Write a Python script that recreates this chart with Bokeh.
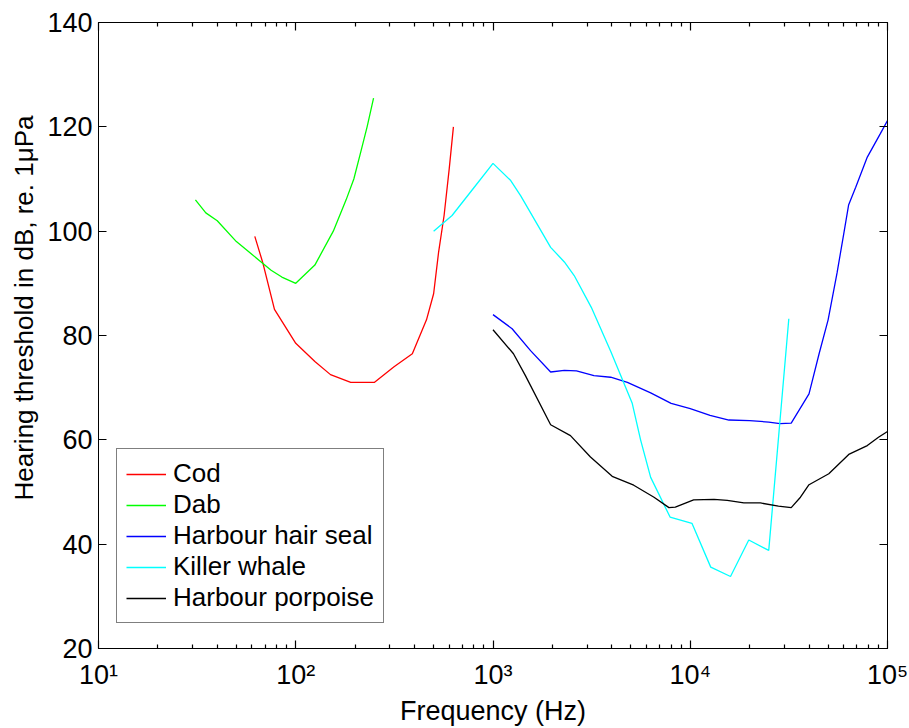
from bokeh.plotting import figure
from bokeh.models import (Range1d, LogAxis, LinearAxis, FixedTicker, Legend,
                          LegendItem, Title)
from bokeh.embed import file_html
from bokeh.resources import INLINE

# ---------------- data ----------------
cod_freq = [62, 68, 78, 100, 125, 150, 190, 250, 315, 390, 460, 500, 530, 565, 600, 630]
cod_db = [99, 94, 85, 78.5, 75, 72.5, 71, 71, 74, 76.5, 83, 88, 96, 103, 112, 120]

dab_freq = [31, 35, 40, 50, 58, 75, 85, 100, 125, 155, 180, 197, 213, 230, 248]
dab_db = [106, 103.5, 102, 98, 96, 92.5, 91.2, 90, 93.5, 100, 106, 110, 115, 120, 125.5]

seal_freq = [1000, 1250, 1550, 1960, 2300, 2650, 3250, 3950, 4800, 6300, 8000, 10000,
             12600, 15700, 20000, 25000, 28500, 32500, 40000, 45000, 50000, 55500,
             60000, 63500, 69000, 79000, 92000, 100000]
seal_db = [84, 81.3, 77.1, 73, 73.3, 73.2, 72.3, 72, 71, 69, 67, 66,
           64.7, 63.8, 63.7, 63.4, 63.1, 63.2, 68.8, 76.5, 83, 92,
           99.5, 105, 108.4, 114.2, 118.7, 121.2]

orca_freq = [500, 620, 780, 1000, 1230, 1380, 1960, 2300, 2580, 3150, 3950, 5080,
             5600, 6300, 7900, 10200, 12700, 16000, 19800, 25000, 31600]
orca_db = [100, 103, 107.8, 113, 109.7, 106.8, 96.9, 94.1, 91.5, 85.4, 77, 67,
           60, 52.8, 45.2, 44, 35.6, 33.8, 40.8, 38.8, 83.2]

porp_freq = [1000, 1270, 1460, 1960, 2470, 3120, 4020, 5170, 6550, 7800, 8400, 10400,
             13200, 15400, 18700, 22700, 28000, 32500, 36200, 40000, 50400, 63600,
             79000, 90000, 100000]
porp_db = [81.1, 76.5, 72.3, 62.9, 60.8, 56.7, 53, 51.3, 49, 47, 47.1, 48.5,
           48.6, 48.4, 47.9, 47.9, 47.3, 47, 49, 51.4, 53.5, 57.2,
           58.9, 60.5, 61.6]

series_names = ["Cod", "Dab", "Harbour hair seal", "Killer whale", "Harbour porpoise"]
series_colors = ["#ff0000", "#00ff00", "#0000ff", "#00ffff", "#000000"]

x_major = [10, 100, 1000, 10000, 100000]
x_major_labels = ["10\u00b9", "10\u00b2", "10\u00b3", "10\u2074", "10\u2075"]
x_minor = [m * 10 ** d for d in range(1, 5) for m in range(2, 10)]
y_major = [20, 40, 60, 80, 100, 120, 140]

FONT = "Liberation Sans"
FS = "27px"

# ---------------- figure ----------------
p = figure(width=909, height=728, x_axis_type="log",
           x_range=Range1d(10, 100000), y_range=Range1d(20, 140),
           output_backend="svg", toolbar_location=None,
           min_border_left=98, min_border_right=22,
           min_border_top=22, min_border_bottom=80)
p.xgrid.visible = False
p.ygrid.visible = False
p.outline_line_color = "black"
p.outline_line_width = 1
p.background_fill_color = "white"
p.border_fill_color = "white"


def style_axis(ax, labels=True):
    ax.axis_line_color = "black"
    ax.axis_line_width = 1
    ax.major_tick_line_color = "black"
    ax.minor_tick_line_color = "black"
    ax.major_tick_line_width = 1.2
    ax.minor_tick_line_width = 1.2
    ax.major_tick_in = 8
    ax.major_tick_out = 0
    ax.minor_tick_in = 4
    ax.minor_tick_out = 0
    ax.major_label_text_font = FONT
    ax.major_label_text_color = "black"
    ax.major_label_text_font_size = FS
    if not labels:
        ax.major_label_text_color = None
        ax.major_label_text_font_size = "2px"
        ax.major_label_standoff = 0


bx = p.xaxis[0]
bx.ticker = FixedTicker(ticks=x_major, minor_ticks=x_minor)
bx.major_label_overrides = {v: s for v, s in zip(x_major, x_major_labels)}
style_axis(bx)
bx.major_label_standoff = 11
bx.axis_label = "Frequency (Hz)"
bx.axis_label_text_font = FONT
bx.axis_label_text_font_size = FS
bx.axis_label_text_font_style = "normal"
bx.axis_label_text_color = "black"
bx.axis_label_standoff = 3

ly = p.yaxis[0]
ly.ticker = FixedTicker(ticks=y_major)
style_axis(ly)
ly.minor_tick_in = 0
ly.major_label_standoff = 6

tx = LogAxis(ticker=FixedTicker(ticks=x_major, minor_ticks=x_minor))
style_axis(tx, labels=False)
p.add_layout(tx, "above")

ry = LinearAxis(ticker=FixedTicker(ticks=y_major))
style_axis(ry, labels=False)
ry.minor_tick_in = 0
p.add_layout(ry, "right")

ytitle = Title(text="Hearing threshold in dB, re. 1\u03bcPa", align="left",
               offset=148, standoff=12, text_font=FONT, text_font_size="26px",
               text_font_style="normal", text_color="black")
p.add_layout(ytitle, "left")

# ---------------- lines ----------------
all_x = [cod_freq, dab_freq, seal_freq, orca_freq, porp_freq]
all_y = [cod_db, dab_db, seal_db, orca_db, porp_db]
items = []
for name, col, xs, ys in zip(series_names, series_colors, all_x, all_y):
    r = p.line(xs, ys, line_color=col, line_width=1.3)
    items.append(LegendItem(label=name, renderers=[r]))

leg = Legend(items=items, location=(18, 25))
leg.label_text_font = FONT
leg.label_text_font_size = "26px"
leg.label_text_line_height = 1.0
leg.label_text_color = "black"
leg.glyph_width = 40
leg.glyph_height = 20
leg.label_height = 20
leg.label_standoff = 7
leg.spacing = -3
leg.padding = 9
leg.margin = 0
leg.border_line_color = "black"
leg.border_line_width = 1
leg.background_fill_color = "white"
leg.background_fill_alpha = 1
p.add_layout(leg, "center")

open("out.html", "w").write(file_html(p, INLINE))
